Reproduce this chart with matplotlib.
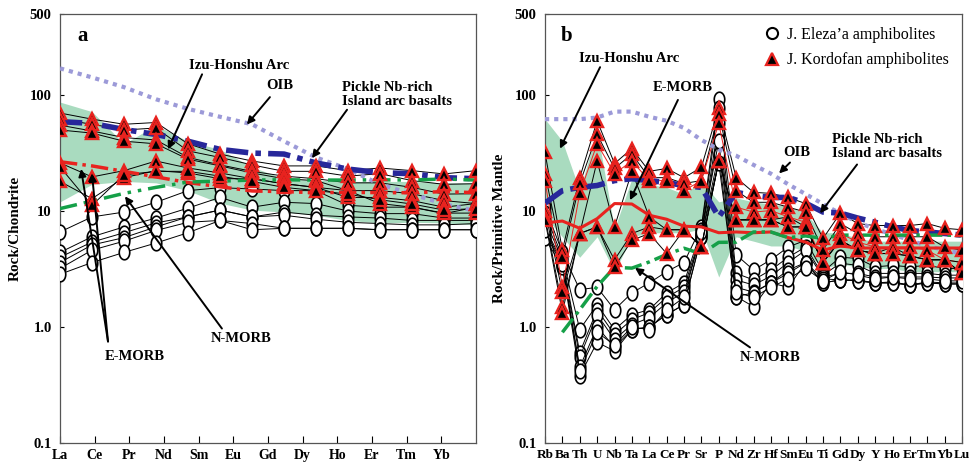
import numpy as np
import matplotlib
matplotlib.use('Agg')
import matplotlib.pyplot as plt
from matplotlib.path import Path
from matplotlib.lines import Line2D

plt.rcParams['font.family'] = ['Liberation Serif', 'DejaVu Serif']

# ---------------- data ----------------
ree = ['La', 'Ce', 'Pr', 'Nd', 'Sm', 'Eu', 'Gd', 'Tb', 'Dy', 'Ho', 'Er', 'Tm', 'Yb', 'Lu']
ree_ticks = ['La', 'Ce', 'Pr', 'Nd', 'Sm', 'Eu', 'Gd', 'Dy', 'Ho', 'Er', 'Tm', 'Yb']
spider = ['Rb', 'Ba', 'Th', 'U', 'Nb', 'Ta', 'La', 'Ce', 'Pr', 'Sr', 'P', 'Nd', 'Zr',
          'Hf', 'Sm', 'Eu', 'Ti', 'Gd', 'Dy', 'Y', 'Ho', 'Er', 'Tm', 'Yb', 'Lu']

# chondrite normalised (panel a)
kordofan_ree = [
    [70, 62, 56, 58, 38, 31, 27, 24.5, 24.5, 22.3, 23.5, 22.3, 20.9, 22.3],
    [62, 56, 50, 52, 33, 29, 25, 22, 22, 20, 21, 18.3, 17, 17.2],
    [55, 49, 43, 41, 29, 25, 22, 20, 19, 17.5, 17.5, 16, 14, 14.1],
    [50, 47, 40, 38, 28, 24.5, 21.3, 19, 18.3, 15, 15, 14.1, 12.3, 11.6],
    [26, 19.7, 22.3, 27, 23.5, 21.3, 19, 17.2, 16, 13.1, 13.1, 12.3, 10.8, 11.6],
    [18, 12.8, 19.4, 22.3, 21.3, 19, 19, 17.2, 16, 15, 11.6, 10.8, 9.6, 9.6],
    [24, 11.2, 20.5, 22, 22, 20, 18, 16, 15, 14, 12.5, 11.5, 10.2, 10.5],
]
eleza_ree = [
    [6.6, 8.9, 9.8, 11.9, 15, 15.9, 15.5, 15, 15, 11.2, 10.8, 10.8, 9.5, 10.8],
    [4.4, 6.0, 7.3, 8.7, 10.6, 13.1, 10.8, 11.9, 11.6, 10, 9.5, 9.5, 8.7, 8.7],
    [4.0, 5.4, 6.5, 7.9, 8.9, 10.2, 8.9, 9.8, 9.2, 8.9, 8.7, 8.3, 8.3, 8.3],
    [3.6, 5.1, 5.9, 7.3, 8.9, 10.2, 8.9, 9.2, 8.5, 8.0, 7.8, 7.6, 7.6, 7.8],
    [3.2, 4.6, 5.5, 6.8, 8.0, 8.3, 7.8, 7.1, 7.1, 7.1, 6.9, 6.9, 6.9, 6.9],
    [2.85, 3.6, 4.4, 5.3, 6.5, 8.3, 6.9, 7.1, 7.1, 7.1, 6.9, 6.9, 6.9, 6.9],
]
oib_ree = [170, 142, 117, 92, 76, 65, 56, 40, 29, 23, 17, 14, 11.5, 10]
pickle_ree = [59, 57, 50.5, 45.7, 40, 34, 31.6, 31, 26, 23, 21.4, 21, 19.4, 19]
emorb_ree = [26.6, 24.5, 22, 19.7, 17.6, 16.2, 14.9, 14.7, 14.4, 14.5, 14.4, 14.4, 14.7, 14.4]
nmorb_ree = [10.5, 12.2, 14.2, 16, 17.8, 18.1, 18.5, 18.6, 18.5, 18.5, 18.6, 18.5, 18.9, 18.5]
izu_ree_upper = [87, 72, 38, 55, 40, 34, 24, 19, 18.5, 18, 18, 18, 17.5, 17.5]
izu_ree_lower = [12, 17, 18, 17.5, 15, 11.7, 10.2, 9.8, 9.2, 8.3, 7.9, 8, 7.9, 7.6]

# primitive mantle normalised (panel b)
kordofan_spider = [
    [32, 4.6, 19.4, 60, 25.7, 34.5, 22, 23.3, 19.4, 23.8, 77, 19.4, 14.5, 14.2, 13.1, 11.6, 5.8, 9.6, 7.8, 7.5, 7.5, 7.5, 7.8, 7.1, 6.9],
    [21, 4.0, 17.3, 46, 23.3, 31, 19.4, 19.4, 17.3, 18.3, 69, 15, 11.9, 11.9, 10.8, 9.8, 4.6, 7.8, 6.4, 6.0, 6.0, 6.0, 6.0, 4.9, 4.6],
    [18.3, 2.2, 14.2, 38, 21, 27, 18.3, 18.3, 15, 18.3, 57, 10.8, 9.8, 10.1, 8.9, 8.0, 3.6, 6.4, 5.4, 4.9, 4.9, 4.9, 4.6, 3.8, 3.6],
    [10.1, 2.0, 6.4, 27, 7.3, 22, 8.9, 6.9, 6.9, 4.9, 27, 8.4, 8.4, 8.4, 8.9, 7.3, 3.6, 5.6, 4.6, 4.3, 4.9, 4.1, 3.8, 3.8, 2.9],
    [8.9, 1.5, 6.4, 7.3, 3.8, 6.4, 7.3, 6.9, 6.9, 4.9, 27, 8.4, 8.4, 8.4, 7.3, 7.3, 3.6, 5.6, 4.6, 4.3, 4.3, 4.1, 3.8, 3.8, 3.6],
    [8.4, 1.33, 6.4, 7.3, 3.3, 5.6, 6.4, 4.3, 6.9, 4.9, 27, 8.4, 8.4, 8.4, 7.3, 7.3, 3.6, 5.6, 4.6, 4.3, 4.3, 4.1, 3.8, 3.8, 2.9],
]
eleza_spider = [
    [10.8, 4.4, 2.1, 2.2, 1.41, 1.97, 2.4, 3.0, 3.6, 7.3, 92, 4.2, 3.1, 3.8, 4.9, 5.6, 3.0, 4.0, 3.9, 3.3, 3.4, 3.3, 3.4, 3.2, 3.2],
    [9.6, 4.0, 0.95, 1.56, 0.95, 1.28, 1.41, 1.97, 2.4, 6.9, 77, 2.9, 2.55, 3.1, 4.0, 4.9, 2.8, 3.55, 3.4, 2.9, 2.9, 2.9, 2.9, 2.8, 2.8],
    [8.4, 3.8, 0.6, 1.41, 0.86, 1.16, 1.33, 1.8, 2.2, 6.4, 57, 2.55, 2.3, 2.75, 3.6, 4.6, 2.7, 2.9, 2.9, 2.7, 2.7, 2.7, 2.7, 2.65, 2.65],
    [7.3, 3.6, 0.55, 1.28, 0.78, 1.05, 1.2, 1.62, 2.0, 6.2, 47, 2.2, 2.0, 2.4, 3.1, 3.6, 2.6, 2.55, 2.55, 2.4, 2.45, 2.3, 2.45, 2.4, 2.4],
    [6.4, 3.4, 0.45, 1.0, 0.67, 0.95, 1.0, 1.28, 1.56, 6.0, 31, 1.83, 1.5, 2.4, 2.9, 3.6, 2.4, 2.55, 2.5, 2.4, 2.4, 2.3, 2.4, 2.35, 2.35],
    [5.8, 3.3, 0.38, 0.74, 0.62, 0.95, 1.0, 1.28, 1.56, 6.0, 26, 1.83, 1.97, 2.4, 2.2, 3.6, 2.4, 2.55, 2.5, 2.4, 2.4, 2.3, 2.4, 2.35, 2.35],
    [6.8, 3.5, 0.42, 0.9, 0.7, 1.0, 0.95, 1.4, 1.8, 6.6, 40, 2.0, 1.8, 2.2, 2.6, 3.2, 2.5, 3.0, 2.8, 2.6, 2.7, 2.6, 2.6, 2.5, 2.5],
]
oib_spider = [62, 62, 62, 64, 72, 72, 65, 60, 52, 41, 34, 30, 25, 21, 17, 14, 11.5, 9.5, 8, 7, 6.3, 5.6, 5, 4.6, 4.3]
pickle_spider = [11.7, 15, 16, 16.6, 18.3, 19, 18.3, 17.6, 16.6, 16, 8.9, 14.5, 13.6, 13.1, 13.1, 11.7, 9.8, 9.6, 8.7, 8.0, 7.3, 6.8, 6.6, 6.4, 6.2]
emorb_spider = [7.9, 8.2, 7.1, 8.6, 11.6, 11.5, 9.2, 8.5, 7.4, 7.3, 6.5, 6.6, 6.5, 6.6, 5.9, 5.4, 4.6, 5.0, 4.8, 4.8, 4.8, 4.8, 4.8, 4.8, 4.8]
nmorb_spider = [np.nan, 0.9, 1.41, 2.24, 3.27, 3.22, 3.64, 4.23, 4.78, 4.27, 5.37, 5.39, 6.6, 6.6, 5.9, 6.1, 5.8, 6.2, 6.2, 6.2, 6.2, 6.2, 6.2, 6.2, 6.15]
izu_spider_upper = [62, 40, 15, 50, 7, 19, 17, 16, 14, 18, 12, 13, 12, 11.5, 11, 9.5, 6.5, 6.5, 5.8, 5.5, 5.5, 5.5, 5.5, 5.5, 5.5]
izu_spider_lower = [9, 6, 4, 6, 3.0, 6, 6.5, 6.5, 6.5, 7, 2.7, 6, 5.5, 5, 5, 4.5, 3.2, 3.5, 3.3, 3.2, 3.2, 3.0, 3.0, 3.0, 3.0]

# ---------------- styles ----------------
RED = '#e8231f'
BLUE = '#27279a'
LAV = '#9c9ad8'
GREEN = '#15a048'
BAND = '#a9dbbf'
t = np.linspace(0, 2 * np.pi, 40)
ellipse = Path(np.column_stack([0.72 * np.cos(t), np.sin(t)]), closed=True)
bold = dict(fontweight='bold', fontsize=10.5)

fig = plt.figure(figsize=(9.71, 4.65), dpi=100)
ax_a = fig.add_axes([60 / 971, 1 - 443 / 465, 416 / 971, 429 / 465])
ax_b = fig.add_axes([545 / 971, 1 - 443 / 465, 417 / 971, 429 / 465])


def draw_samples(ax, x, eleza, kordofan, red_line=None):
    for s in eleza:
        ax.plot(x, s, color='k', lw=0.7, marker=ellipse, ms=10.5, mfc='white',
                mec='k', mew=1.2, zorder=3)
    for i, s in enumerate(kordofan):
        ax.plot(x, s, color=RED if i == red_line else 'k', lw=0.7, zorder=4)
    for s in kordofan:
        ax.plot(x, s, ls='none', marker='^', ms=8.5, mfc='k', mec=RED, mew=1.7, zorder=6)


def setup(ax, n, ticks, labels, ylabel, xsize):
    ax.set_yscale('log')
    ax.set_ylim(0.1, 500)
    ax.set_xlim(0, n)
    ax.set_yticks([0.1, 1, 10, 100, 500])
    ax.set_yticklabels(['0.1', '1.0', '10', '100', '500'], **bold)
    ax.minorticks_off()
    ax.tick_params(axis='y', length=3, direction='in', pad=6)
    ax.set_xticks(ticks)
    ax.set_xticklabels(labels, fontweight='bold', fontsize=xsize)
    ax.tick_params(axis='x', length=5, direction='in', pad=4)
    ax.set_ylabel(ylabel, fontweight='bold', fontsize=11, labelpad=6)
    for sp in ax.spines.values():
        sp.set_color('#555555')
        sp.set_linewidth(0.9)


def arrow(ax, tail, head):
    ax.annotate('', xy=head, xytext=tail,
                arrowprops=dict(arrowstyle='-|>', color='k', lw=1.4, mutation_scale=11,
                                shrinkA=0, shrinkB=0), zorder=8)


# ---------------- panel a ----------------
xa = np.arange(len(ree))
ax_a.fill_between(xa, izu_ree_lower, izu_ree_upper, color=BAND, lw=0, zorder=1)
draw_samples(ax_a, xa, eleza_ree, kordofan_ree)
ax_a.plot(xa, oib_ree, color=LAV, lw=3, ls=(0, (1, 1.2)), zorder=5)
ax_a.plot(xa, pickle_ree, color=BLUE, lw=4, ls=(0, (4, 1.3, 1, 1.3)), zorder=5)
ax_a.plot(xa, emorb_ree, color=RED, lw=2.5, ls=(0, (5, 1.5, 1, 1.5)), zorder=5)
ax_a.plot(xa, nmorb_ree, color=GREEN, lw=2.5, ls=(0, (5, 2, 1, 2, 1, 2)), zorder=5)
setup(ax_a, 13, np.arange(12) * 13 / 12, ree_ticks, 'Rock/Chondrite', 10)

ax_a.text(0.55, 290, 'a', fontsize=15, fontweight='bold')
ax_a.text(5.6, 180, 'Izu-Honshu Arc', ha='center', va='center', **bold)
arrow(ax_a, (4.44, 151), (3.375, 34))
ax_a.text(6.875, 122, 'OIB', ha='center', va='center', **bold)
arrow(ax_a, (6.56, 96), (5.84, 55.7))
ax_a.text(8.81, 102, 'Pickle Nb-rich\nIsland arc basalts', ha='left', va='center',
          linespacing=1.1, **bold)
arrow(ax_a, (8.97, 74.7), (7.875, 28.6))
ax_a.text(2.34, 0.56, 'E-MORB', ha='center', va='center', **bold)
arrow(ax_a, (1.5, 0.75), (0.66, 23.1))
arrow(ax_a, (1.5, 0.75), (1.0, 21))
ax_a.text(5.66, 0.8, 'N-MORB', ha='center', va='center', **bold)
arrow(ax_a, (5.06, 0.97), (2.03, 13.4))

# ---------------- panel b ----------------
xb = np.arange(len(spider))
ax_b.fill_between(xb, izu_spider_lower, izu_spider_upper, color=BAND, lw=0, zorder=1)
draw_samples(ax_b, xb, eleza_spider, kordofan_spider, red_line=2)
ax_b.plot(xb, oib_spider, color=LAV, lw=3, ls=(0, (1, 1.2)), zorder=5)
ax_b.plot(xb, pickle_spider, color=BLUE, lw=4, ls=(0, (4, 1.3, 1, 1.3)), zorder=5)
ax_b.plot(xb, emorb_spider, color=RED, lw=2.2, zorder=5)
ax_b.plot(xb, nmorb_spider, color=GREEN, lw=2.5, ls=(0, (5, 1.5, 1, 1.5)), zorder=5)
setup(ax_b, 24, xb, spider, 'Rock/Primitive Mantle', 9.5)

ax_b.text(0.9, 290, 'b', fontsize=15, fontweight='bold')
ax_b.text(4.83, 208, 'Izu-Honshu Arc', ha='center', va='center', **bold)
arrow(ax_b, (3.17, 174), (0.86, 34.5))
ax_b.text(7.94, 117, 'E-MORB', ha='center', va='center', **bold)
arrow(ax_b, (7.65, 90.8), (4.89, 12.4))
ax_b.text(14.5, 31.9, 'OIB', ha='center', va='center', **bold)
arrow(ax_b, (14.1, 26.2), (13.47, 21.1))
ax_b.text(16.52, 35.9, 'Pickle Nb-rich\nIsland arc basalts', ha='left', va='center',
          linespacing=1.1, **bold)
arrow(ax_b, (17.96, 25.2), (15.83, 9.57))
ax_b.text(12.95, 0.55, 'N-MORB', ha='center', va='center', **bold)
arrow(ax_b, (11.8, 0.667), (5.18, 3.24))

handles = [
    Line2D([], [], ls='none', marker='o', ms=8, mfc='white', mec='k', mew=1.5,
           label='J. Eleza\u2019a amphibolites'),
    Line2D([], [], ls='none', marker='^', ms=8, mfc='k', mec=RED, mew=1.6,
           label='J. Kordofan amphibolites'),
]
ax_b.legend(handles=handles, loc='upper right', bbox_to_anchor=(1.0, 1.0), frameon=False,
            prop=dict(size=11.5), handletextpad=0.2, handlelength=1.5,
            labelspacing=0.6, borderaxespad=0.4)

fig.savefig('out.png', dpi=100)
